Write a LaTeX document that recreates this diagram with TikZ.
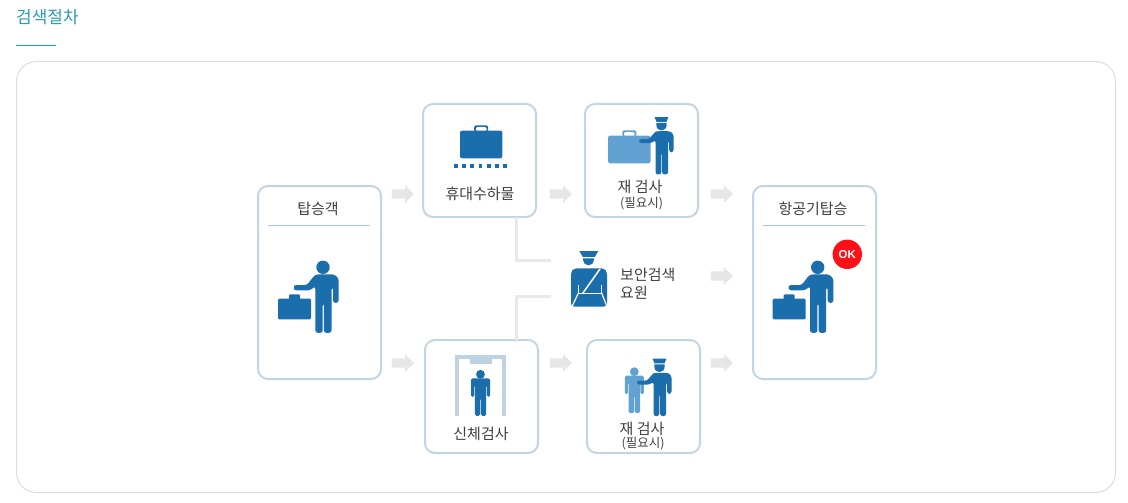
\documentclass[tikz,border=0pt]{standalone}
\usepackage{fontspec}
\setmainfont{Noto Sans CJK KR}
\newfontfamily\latinbold{Liberation Sans}
\usetikzlibrary{shapes.arrows}
\definecolor{navyblue}{HTML}{1B6EAC}
\definecolor{lightblue}{HTML}{62A2D2}
\definecolor{paleblue}{HTML}{BDD3E4}
\definecolor{boxline}{HTML}{C2D5E3}
\definecolor{sepline}{HTML}{A9C6DA}
\definecolor{outerline}{HTML}{DCDCDC}
\definecolor{greyarrow}{HTML}{E6E6E6}
\definecolor{greylink}{HTML}{E8E8E8}
\definecolor{titleblue}{HTML}{2A9AB5}
\definecolor{ruleteal}{HTML}{0FA0BC}
\definecolor{labeltext}{HTML}{404040}
\definecolor{okred}{HTML}{FF1016}
\newcommand{\figurebody}{%
  (-29,20.3) [rounded corners=2.4pt] -- (-29,17.7) -- (-16,17.7) -- (-9,8.5) -- (-6,7) -- (11,7) -- (15.6,11)
  -- (15.6,35.5) -- (10,35.5) -- (10,20) -- (8.5,20) -- (8.5,65.5) -- (0.9,65.5) -- (0.9,36) -- (-0.3,36)
  -- (-0.3,65.5) -- (-7.7,65.5) -- (-7.7,19) -- (-13,23) -- (-29,23) -- cycle}
\tikzset{
  every node/.style={text=labeltext,font=\fontsize{15}{18}\selectfont,inner sep=0pt},
  outerbox/.style={draw=outerline,line width=1pt,rounded corners=20pt,fill=white},
  flowbox/.style={draw=boxline,line width=2pt,rounded corners=10pt,fill=white},
  notetext/.style={font=\fontsize{12.5}{15}\selectfont},
  greyarrowshape/.style={single arrow,fill=greyarrow,draw=none,minimum height=22pt,single arrow head extend=4pt,inner sep=4.5pt},
  greylinkstyle/.style={draw=greylink,line width=3pt},
  passenger/.pic={
    \fill[navyblue] (0,0) circle (6.7);
    \fill[navyblue] \figurebody;
    \fill[navyblue,rounded corners=1.2pt] (-45,31.3) rectangle (-12,52);
    \fill[navyblue,rounded corners=1.2pt] (-34,33) rectangle (-23,27);
  },
  guardfigure/.pic={
    \fill[navyblue] (-9,-12) -- (9,-12) -- (6.4,-5.6) -- (-6.4,-5.6) -- cycle;
    \fill[navyblue] (-6.6,-4.2) -- (6.6,-4.2) -- (6.6,-1) .. controls (6.6,3.5) and (3.5,6) .. (0,6) .. controls (-3.5,6) and (-6.6,3.5) .. (-6.6,-1) -- cycle;
    \fill[navyblue] \figurebody;
  },
  standing/.pic={
    \fill[pic actions] (0,0) circle (4.4);
    \fill[pic actions,rounded corners=1.5pt] (-9.5,4) -- (9.5,4) -- (9.5,22.6) -- (6.4,22.6) -- (6.4,11) -- (5.7,11) -- (5.7,41.5)
      -- (0.4,41.5) -- (0.4,24) -- (-0.4,24) -- (-0.4,41.5) -- (-5.7,41.5) -- (-5.7,11) -- (-6.4,11) -- (-6.4,22.6) -- (-9.5,22.6) -- cycle;
  },
  bigbag/.pic={
    \fill[pic actions,rounded corners=2pt] (-21.2,-13.8) rectangle (21.2,13.8);
    \fill[pic actions,even odd rule,rounded corners=1.5pt] (-7,-13) -- (-7,-19.2) -- (7,-19.2) -- (7,-13) -- cycle
      (-5.4,-13) -- (-5.4,-17.7) -- (5.4,-17.7) -- (5.4,-13) -- cycle;
  },
}
\begin{document}
\begin{tikzpicture}[x=1pt,y=-1pt]
\useasboundingbox (0,0) rectangle (1128,503);
% title
\node[text=titleblue,font=\fontsize{17}{20}\selectfont,anchor=west] (title) at (16,17.5) {검색절차};
\fill[ruleteal] (16,45) rectangle (56,46.2);
% outer panel
\draw[outerbox] (16.5,61.5) rectangle (1115.5,492.5);
% boxes
\draw[flowbox] (258,186) rectangle (381,379);
\draw[flowbox] (423,104) rectangle (536,217);
\draw[flowbox] (585,104) rectangle (698,217);
\draw[flowbox] (425,340) rectangle (538,453);
\draw[flowbox] (587,340) rectangle (700,453);
\draw[flowbox] (753,186) rectangle (876,379);
\coordinate (baggageFoot) at (516,217);
\coordinate (bodyTop) at (516,340);
\coordinate (officerUpper) at (551,260);
\coordinate (officerLower) at (551,296);
% links to the officer
\draw[greylinkstyle] (baggageFoot) |- (officerUpper);
\draw[greylinkstyle] (bodyTop) |- (officerLower);
% grey arrows
\node[greyarrowshape] (arrowA) at (400.5,194) {};
\node[greyarrowshape] (arrowB) at (400.5,363) {};
\node[greyarrowshape] (arrowC) at (558.5,194) {};
\node[greyarrowshape] (arrowD) at (558.5,363) {};
\node[greyarrowshape] (arrowE) at (719.5,194) {};
\node[greyarrowshape] (arrowF) at (719.5,276) {};
\node[greyarrowshape] (arrowG) at (719.5,363) {};
% passenger box
\node (lblPassenger) at (318,208.5) {탑승객};
\fill[sepline] (268,225) rectangle (370,226);
\pic at (323,267.3) {passenger};
% boarding box
\node (lblBoarding) at (813,208.5) {항공기탑승};
\fill[sepline] (763,225) rectangle (865,226);
\pic at (817.7,267.3) {passenger};
\fill[okred] (847.3,254.3) circle (14.7);
\node[text=white,font=\latinbold\bfseries\fontsize{11.5}{12}\selectfont] (okbadge) at (847.3,254.3) {OK};
% carry-on box
\pic[fill=navyblue] at (481.2,144.5) {bigbag};
\foreach \i in {0,...,6} \fill[navyblue] ({454+\i*8.2},164.2) rectangle ({457.7+\i*8.2},168);
\node (lblCarry) at (480,193.5) {휴대수하물};
% recheck 1
\pic[fill=lightblue] at (629.3,149.5) {bigbag};
\pic[xscale=.77,yscale=.74] at (661.5,126) {guardfigure};
\node (lblRecheckA) at (640,186.5) {재 검사};
\node[notetext] (noteRecheckA) at (641.5,203.5) {(필요시)};
% officer
\fill[navyblue] (579.3,251) -- (598.3,251) -- (595,256.8) -- (582.7,256.8) -- cycle;
\fill[navyblue] (583,258.3) -- (594,258.3) -- (594,260) .. controls (594,263) and (591.5,265.3) .. (588.5,265.3) .. controls (585.5,265.3) and (583,263) .. (583,260) -- cycle;
\fill[navyblue,rounded corners=3pt] (571,306.5) -- (571,272) -- (574,268.3) -- (604,268.3) -- (607,272) -- (607,306.5) -- cycle;
\draw[white,line width=1.5pt] (600,269) -- (582.7,293.3);
\draw[white,line width=1.5pt] (578.3,293.3) -- (601.7,293.3);
\draw[white,line width=.9pt] (578.3,285) -- (578.3,293.3);
\draw[white,line width=.9pt] (601.7,285) -- (601.7,293.3);
\draw[white,line width=1.2pt] (578.3,293.3) -- (572,306.5);
\draw[white,line width=1.2pt] (601.7,293.3) -- (607,306.5);
\node[anchor=west] (lblOfficerA) at (620,274.5) {보안검색};
\node[anchor=west] (lblOfficerB) at (620,292.5) {요원};
% body scan
\fill[paleblue] (455,355) rectangle (506,359);
\fill[paleblue] (455,355) rectangle (459,415.7);
\fill[paleblue] (502,355) rectangle (506,415.7);
\fill[paleblue] (470,355) rectangle (492,363.7);
\pic[fill=navyblue] at (480.5,374.3) {standing};
\node (lblBody) at (481,433.5) {신체검사};
% recheck 2
\pic[fill=lightblue] at (634.3,371.7) {standing};
\pic[xscale=.77,yscale=.74] at (659.5,367.6) {guardfigure};
\node (lblRecheckB) at (642,428.5) {재 검사};
\node[notetext] (noteRecheckB) at (643,443.5) {(필요시)};
\end{tikzpicture}
\end{document}
